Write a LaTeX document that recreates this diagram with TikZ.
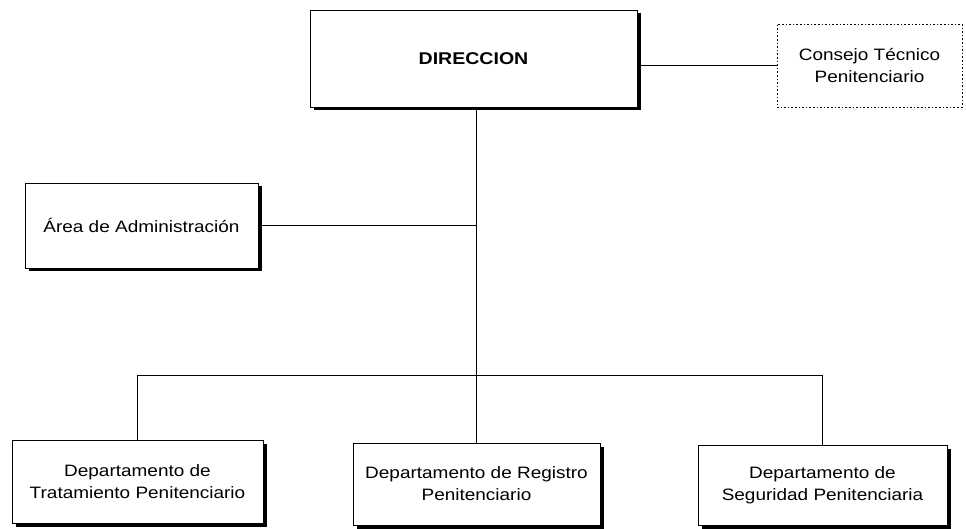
\documentclass[tikz,border=0pt]{standalone}
\usepackage{fontspec}
\setmainfont{Liberation Sans}[FakeStretch=1.15]
\usetikzlibrary{positioning,shadows}

\begin{document}
\begin{tikzpicture}[x=1pt, y=-1pt,
  unitbox/.style={draw, line width=0.9pt, fill=white, align=center, inner sep=0pt,
    font=\fontsize{16.5}{22}\selectfont,
    drop shadow={shadow xshift=3.5pt, shadow yshift=-3.5pt, fill=black, opacity=1}},
  advisory/.style={draw, line width=0.9pt, dash pattern=on 1.6pt off 2pt, align=center,
    inner sep=0pt, font=\fontsize{16.5}{22}\selectfont},
  link/.style={line width=0.9pt}]
  \useasboundingbox (0,0) rectangle (966,529);

  % top level
  \node[unitbox, minimum width=327pt, minimum height=97pt, font=\fontsize{17}{22}\selectfont\bfseries]
    (dir) at (473.5,58.5) {DIRECCION};
  \node[advisory, minimum width=185pt, minimum height=83pt] (consejo) at (869.5,65.5)
    {Consejo Técnico\\Penitenciario};
  \node[unitbox, minimum width=233pt, minimum height=85pt] (admin) at (141.5,225.5)
    {Área de Administración};

  % departamentos
  \node[unitbox, minimum width=251pt, minimum height=83pt] (trat) at (137.5,481.5)
    {Departamento de\\Tratamiento Penitenciario};
  \node[unitbox, minimum width=247pt, minimum height=82pt] (reg) at (476.5,484)
    {Departamento de Registro\\Penitenciario};
  \node[unitbox, minimum width=249pt, minimum height=80pt] (seg) at (822.5,485)
    {Departamento de\\Seguridad Penitenciaria};

  \coordinate (bus) at (476.5,375);

  \draw[link] (consejo.west) -- (consejo.west -| dir.east);
  \draw[link] (dir.south -| reg.north) -- (reg.north);
  \draw[link] (admin.east) -- (admin.east -| reg.north);
  \draw[link] (trat.north) -- (trat.north |- bus) -- (seg.north |- bus) -- (seg.north);
\end{tikzpicture}
\end{document}
